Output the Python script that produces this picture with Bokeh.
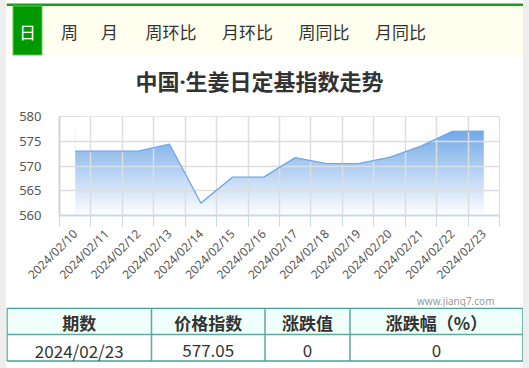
import numpy as np
from bokeh.plotting import figure
from bokeh.layouts import row, column
from bokeh.models import Range1d, FixedTicker, Spacer, Title
from bokeh.core.properties import value
from bokeh.embed import file_html
from bokeh.resources import INLINE

# ---- data ----
dates = ["2024/02/10", "2024/02/11", "2024/02/12", "2024/02/13", "2024/02/14",
         "2024/02/15", "2024/02/16", "2024/02/17", "2024/02/18", "2024/02/19",
         "2024/02/20", "2024/02/21", "2024/02/22", "2024/02/23"]
index_values = [573.0, 573.0, 573.0, 574.4, 562.5, 567.75, 567.75, 571.7,
                570.5, 570.5, 571.75, 574.0, 577.0, 577.05]
y_ticks = [560, 565, 570, 575, 580]
tabs = ["日", "周", "月", "周环比", "月环比", "周同比", "月同比"]
title_text = "中国·生姜日定基指数走势"
table_headers = ["期数", "价格指数", "涨跌值", "涨跌幅（%）"]
table_row = ["2024/02/23", "577.05", "0", "0"]
watermark = "www.jiang7.com"

CJK = value("Noto Sans CJK SC")
GREY_SIDE = "#eeeeee"


def blank(fig):
    fig.axis.visible = False
    fig.grid.visible = False
    fig.outline_line_color = None
    fig.background_fill_color = "white"
    fig.border_fill_color = "white"


def strip():
    return Spacer(width=6, height=368, styles={"background-color": GREY_SIDE})


# ---- top: tabs + title (window y 0..100) ----
top = figure(width=517, height=100, x_range=Range1d(6, 523), y_range=Range1d(100, 0),
             toolbar_location=None, output_backend="svg", min_border=0, frame_align=False)
blank(top)
top.quad(left=[6], right=[523], top=[3], bottom=[5.5], fill_color="#1c9c1c", line_color=None)
top.quad(left=[6], right=[523], top=[5.5], bottom=[55], fill_color="#fffff0", line_color=None)
top.quad(left=[12.5], right=[41.5], top=[5.5], bottom=[54.5], fill_color="#009900",
         line_color="#66c466", line_width=1)
tab_x = [27, 69, 109, 170.5, 247, 323.5, 400]
tab_colors = ["white"] + ["#333333"] * (len(tabs) - 1)
top.text(x=tab_x, y=[31] * len(tabs), text=tabs, text_font=CJK, text_font_size="17px",
         text_align="center", text_baseline="middle", text_color=tab_colors)
top.text(x=[259], y=[80], text=[title_text], text_font=value("'Noto Sans', 'Noto Sans CJK SC'"),
         text_font_size="22px", text_font_style="bold", text_align="center",
         text_baseline="middle", text_color="#333333")

# ---- chart (window y 100..307) ----
FRAME_TOP, FRAME_BOTTOM, FIG_TOP, FIG_BOTTOM = 116, 215, 100, 307
n = len(dates)
xs = [i + 0.5 for i in range(n)]
p = figure(width=517, height=FIG_BOTTOM - FIG_TOP, x_range=Range1d(0, n),
           y_range=Range1d(y_ticks[0], y_ticks[-1]),
           toolbar_location=None, output_backend="svg", frame_align=False,
           min_border_left=53, min_border_right=24, min_border_top=FRAME_TOP - FIG_TOP,
           min_border_bottom=FIG_BOTTOM - FRAME_BOTTOM)
p.background_fill_color = "white"
p.border_fill_color = "white"
p.outline_line_color = "#dddddd"

# gradient fill under the line
N = 256
ymin = y_ticks[0]
ymax = max(index_values)
img = np.zeros((N, 2), dtype=np.uint32)
view = img.view(dtype=np.uint8).reshape((N, 2, 4))
t = np.linspace(0, 1, N)[:, None]
top_rgb = np.array([116, 170, 233])
for c in range(3):
    view[:, :, c] = (255 + (top_rgb[c] - 255) * t).astype(np.uint8)
view[:, :, 3] = 255
p.image_rgba(image=[img], x=xs[0], y=ymin, dw=xs[-1] - xs[0], dh=ymax - ymin)
p.varea(x=xs, y1=index_values, y2=[y_ticks[-1]] * n, fill_color="white")
ln = p.line(xs, index_values, line_color="#6fa8e8", line_width=1.3)
ln.level = "annotation"

# axes
p.yaxis.ticker = FixedTicker(ticks=y_ticks)
p.yaxis.major_tick_line_color = None
p.yaxis.major_tick_out = 0
p.yaxis.minor_tick_line_color = None
p.yaxis.axis_line_color = "#d4d4d4"
p.yaxis.axis_line_width = 2
p.yaxis.major_label_text_font_size = "13px"
p.yaxis.major_label_text_color = "#555555"
p.yaxis.major_label_text_font = "Noto Sans"
p.yaxis.major_label_standoff = 18

p.xaxis.ticker = FixedTicker(ticks=xs, minor_ticks=list(range(n + 1)))
p.xaxis.major_label_overrides = {x: d for x, d in zip(xs, dates)}
p.xaxis.major_label_orientation = np.pi / 4
p.xaxis.major_tick_line_color = None
p.xaxis.major_tick_out = 0
p.xaxis.minor_tick_in = 0
p.xaxis.minor_tick_out = 11
p.xaxis.minor_tick_line_color = "#c8d8ec"
p.xaxis.axis_line_color = "#c8d8ec"
p.xaxis.axis_line_width = 2
p.xaxis.major_label_text_font_size = "12px"
p.xaxis.major_label_text_color = "#555555"
p.xaxis.major_label_text_font = "Noto Sans"
p.xaxis.major_label_standoff = 5

p.xgrid.ticker = FixedTicker(ticks=list(range(n + 1)))
p.ygrid.ticker = FixedTicker(ticks=y_ticks)
for g in (p.xgrid, p.ygrid):
    g.grid_line_color = "#dddddd"
    g.grid_line_width = 1.5
    g.level = "guide"

# watermark under the axis labels
p.add_layout(Title(text=watermark, align="right", offset=5, standoff=0,
                   text_font="Noto Sans", text_font_size="10px", text_font_style="normal",
                   text_color="#999999"), "below")

# ---- table (window y 307..368) ----
tb = figure(width=517, height=368 - FIG_BOTTOM, x_range=Range1d(6, 523),
            y_range=Range1d(368, FIG_BOTTOM),
            toolbar_location=None, output_backend="svg", min_border=0, frame_align=False)
blank(tb)
col_edges = [6.5, 151, 264.5, 349.5, 522.5]
row_edges = [307.7, 334, 360.5]
tb.quad(left=[col_edges[0]], right=[col_edges[-1]], top=[row_edges[0]], bottom=[row_edges[1]],
        fill_color="#effffa", line_color=None)
tb.segment(x0=col_edges[0], y0=row_edges[1], x1=col_edges[-1], y1=row_edges[1],
           line_color="#5aaaa0", line_width=1.5)
tb.segment(x0=col_edges[1:-1], y0=row_edges[0], x1=col_edges[1:-1], y1=row_edges[-1],
           line_color="#5aaaa0", line_width=1.5)
tb.quad(left=[col_edges[0]], right=[col_edges[-1]], top=[row_edges[0]], bottom=[row_edges[-1]],
        fill_color=None, line_color="#4aa39a", line_width=1.5)
centers = [(a + b) / 2 for a, b in zip(col_edges[:-1], col_edges[1:])]
tb.text(x=centers, y=[322] * 4, text=table_headers, text_font=CJK, text_font_size="17px",
        text_font_style="bold", text_align="center", text_baseline="middle", text_color="#333333")
tb.text(x=centers, y=[349.5] * 4, text=table_row, text_font=CJK, text_font_size="17px",
        text_align="center", text_baseline="middle", text_color="#333333")

layout = row(strip(), column(top, p, tb), strip())
open("out.html", "w").write(file_html(layout, INLINE))
